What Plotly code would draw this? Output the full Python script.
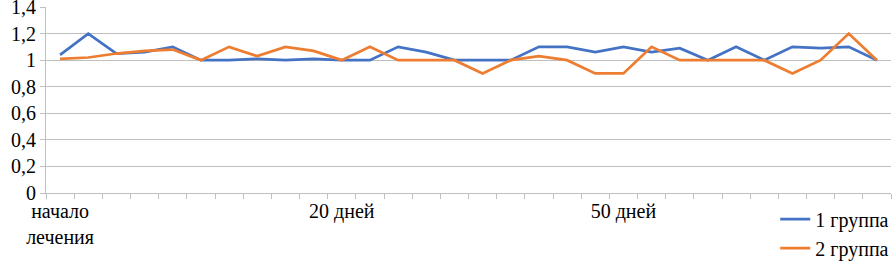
import plotly.graph_objects as go

x_idx = list(range(30))
group1 = [1.04, 1.2, 1.05, 1.06, 1.1, 1.0, 1.0, 1.01, 1.0, 1.01,
          1.0, 1.0, 1.1, 1.06, 1.0, 1.0, 1.0, 1.1, 1.1, 1.06,
          1.1, 1.06, 1.09, 1.0, 1.1, 1.0, 1.1, 1.09, 1.1, 1.0]
group2 = [1.01, 1.02, 1.05, 1.07, 1.08, 1.0, 1.1, 1.03, 1.1, 1.07,
          1.0, 1.1, 1.0, 1.0, 1.0, 0.9, 1.0, 1.03, 1.0, 0.9,
          0.9, 1.1, 1.0, 1.0, 1.0, 1.0, 0.9, 1.0, 1.2, 1.0]
x_tickvals = [0, 10, 20]
x_ticktext = ["начало<br>лечения", "20 дней", "50 дней"]
y_tickvals = [0, 0.2, 0.4, 0.6, 0.8, 1.0, 1.2, 1.4]
y_ticktext = ["0", "0,2", "0,4", "0,6", "0,8", "1", "1,2", "1,4"]
names = ["1 группа", "2 группа"]

font = dict(family="Liberation Serif, 'Times New Roman', serif", size=20, color="#000000")
grid = "#bfbfbf"

fig = go.Figure()
fig.add_trace(go.Scatter(x=x_idx, y=group1, mode="lines", name=names[0],
                         line=dict(color="#4472C4", width=2.75)))
fig.add_trace(go.Scatter(x=x_idx, y=group2, mode="lines", name=names[1],
                         line=dict(color="#ED7D31", width=2.75)))

fig.update_layout(
    width=896, height=268,
    margin=dict(l=46, r=5, t=7, b=75, autoexpand=False),
    paper_bgcolor="white", plot_bgcolor="white",
    font=font,
    showlegend=True,
    legend=dict(x=0.863, xanchor="left", y=-0.035, yanchor="top",
                bgcolor="rgba(0,0,0,0)", font=font, tracegroupgap=0,
                itemwidth=30),
    xaxis=dict(range=[-0.5, 29.5], tickvals=x_tickvals, ticktext=x_ticktext,
               ticks="", showgrid=False, zeroline=False,
               showline=True, linecolor=grid, linewidth=1,
               tickfont=font, ticklabeloverflow="allow",
               minor=dict(tick0=-0.5, dtick=1, ticks="outside", ticklen=5,
                          tickcolor=grid, showgrid=False)),
    yaxis=dict(range=[0, 1.4001], tickvals=y_tickvals, ticktext=y_ticktext,
               showgrid=True, gridcolor=grid, gridwidth=1,
               zeroline=False, showline=True, linecolor=grid, linewidth=1,
               ticks="outside", ticklen=5, tickcolor=grid,
               tickfont=font, ticklabeloverflow="allow"),
)

fig.write_html("out.html", config={"displayModeBar": False},
               post_script="document.body.style.margin='0px';")
